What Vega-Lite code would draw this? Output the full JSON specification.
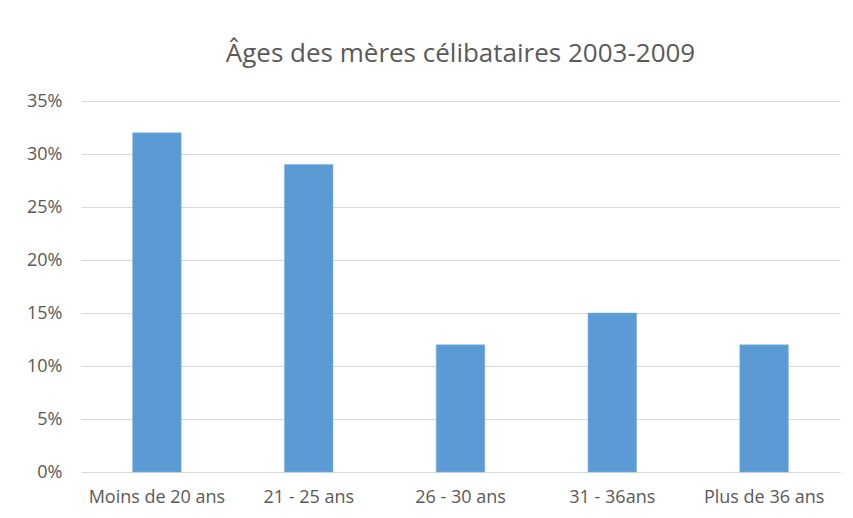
{
  "$schema": "https://vega.github.io/schema/vega-lite/v6.json",
  "width": 759,
  "height": 371,
  "autosize": {"type": "none"},
  "padding": {"left": 81, "top": 101, "right": 13, "bottom": 46},
  "background": "white",
  "title": {
    "text": "Âges des mères célibataires 2003-2009",
    "font": "Open Sans",
    "fontSize": 26,
    "fontWeight": "normal",
    "color": "#595959",
    "anchor": "middle",
    "offset": 4,
    "baseline": "alphabetic"
  },
  "data": {
    "values": [
      {"age": "Moins de 20 ans", "pct": 0.32},
      {"age": "21 - 25 ans", "pct": 0.29},
      {"age": "26 - 30 ans", "pct": 0.12},
      {"age": "31 - 36ans", "pct": 0.15},
      {"age": "Plus de 36 ans", "pct": 0.12}
    ]
  },
  "mark": {"type": "bar", "color": "#5B9BD5", "stroke": "#7FB0DE", "strokeWidth": 0.5},
  "encoding": {
    "x": {
      "field": "age",
      "type": "nominal",
      "sort": null,
      "scale": {"paddingInner": 0.68, "paddingOuter": 0.34},
      "axis": {
        "title": null,
        "labelAngle": 0,
        "ticks": false,
        "domain": true,
        "domainColor": "#D9D9D9",
        "labelFont": "Open Sans",
        "labelFontSize": 18,
        "labelColor": "#595959",
        "labelPadding": 16
      }
    },
    "y": {
      "field": "pct",
      "type": "quantitative",
      "scale": {"domain": [0, 0.35], "nice": false},
      "axis": {
        "title": null,
        "format": ".0%",
        "values": [0, 0.05, 0.1, 0.15, 0.2, 0.25, 0.3, 0.35],
        "ticks": false,
        "domain": false,
        "gridColor": "#D9D9D9",
        "labelFont": "Open Sans",
        "labelFontSize": 18,
        "labelColor": "#595959",
        "labelPadding": 19
      }
    }
  },
  "config": {"view": {"stroke": null}}
}
